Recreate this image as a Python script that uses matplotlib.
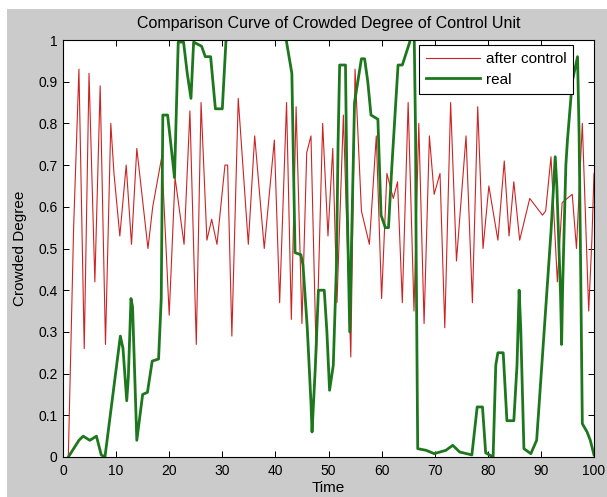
import matplotlib
matplotlib.use('Agg')
import matplotlib.pyplot as plt
from matplotlib.patches import Rectangle

plt.rcParams['font.family'] = ['Liberation Sans', 'DejaVu Sans']

title_text = "Comparison Curve of Crowded Degree of Control Unit"
x_label = "Time"
y_label = "Crowded Degree"
series_names = ["after control", "real"]

x_ticks = [0, 10, 20, 30, 40, 50, 60, 70, 80, 90, 100]
y_ticks = [0, 0.1, 0.2, 0.3, 0.4, 0.5, 0.6, 0.7, 0.8, 0.9, 1]
y_tick_labels = ["0", "0.1", "0.2", "0.3", "0.4", "0.5", "0.6", "0.7", "0.8", "0.9", "1"]

# "after control" series
after_t = [1, 2, 3, 4, 4.9, 6, 7, 8, 9, 9.6, 10.7, 11.9, 12.9, 13.9, 16, 16.9, 18.6,
           20.0, 21.1, 22.8, 23.9, 25.1, 26.0, 27.1, 28.0, 29.0, 30.5, 31.0, 31.8, 33.0,
           34.9, 36.1, 37.9, 39.8, 40.8, 42.1, 43.0, 43.9, 45.0, 45.9, 46.7, 47.7, 48.9,
           49.9, 50.8, 51.6, 52.8, 54.2, 55.0, 56.2, 57.7, 59.0, 60.0, 61.0, 62.2, 63.0,
           63.9, 65.0, 66.1, 67.0, 68.0, 69.0, 69.9, 71.0, 71.9, 73.0, 74.1, 75.9, 77.1,
           78.1, 79.1, 80.2, 81.9, 83.1, 84.0, 84.9, 86.0, 87.9, 90.3, 90.9, 91.9, 93.1,
           94.0, 95.9, 96.7, 97.8, 99.0, 99.6, 100]
after_v = [0.0, 0.55, 0.93, 0.26, 0.92, 0.42, 0.89, 0.27, 0.80, 0.68, 0.53, 0.70, 0.51,
           0.74, 0.50, 0.60, 0.72, 0.34, 0.67, 0.51, 0.83, 0.27, 0.85, 0.52, 0.57, 0.51,
           0.70, 0.70, 0.29, 0.86, 0.51, 0.77, 0.50, 0.76, 0.37, 0.85, 0.33, 0.84, 0.32,
           0.73, 0.77, 0.23, 0.80, 0.53, 0.74, 0.37, 0.82, 0.24, 0.93, 0.59, 0.51, 0.77,
           0.38, 0.68, 0.62, 0.66, 0.37, 0.85, 0.35, 0.80, 0.32, 0.77, 0.63, 0.68, 0.31,
           0.85, 0.47, 0.77, 0.37, 0.84, 0.50, 0.65, 0.52, 0.71, 0.53, 0.66, 0.52, 0.62,
           0.58, 0.59, 0.72, 0.42, 0.61, 0.63, 0.50, 0.80, 0.35, 0.52, 0.68]

# "real" series
real_t = [1, 2, 3, 3.8, 5.05, 6.3, 7.2, 7.9, 10.8, 11.3, 12.0, 12.3, 12.8, 13.1, 13.9,
          15.0, 15.9, 16.8, 18.0, 18.5, 18.8, 19.7, 20.4, 21.0, 21.7, 22.7, 23.4, 24.1,
          24.6, 26.1, 26.8, 27.8, 28.7, 30.0, 30.7, 31.2, 41.8, 42.1, 43.1, 43.7, 44.8,
          45.2, 46.0, 46.7, 46.9, 47.5, 48.1, 49.2, 49.7, 50.2, 50.9, 51.5, 51.8, 52.1,
          53.2, 53.5, 54.0, 54.3, 54.9, 56.2, 56.8, 57.4, 58.0, 59.3, 59.9, 60.7, 61.3,
          61.9, 63.1, 63.9, 65.3, 65.7, 66.1, 66.4, 66.5, 66.8, 68.4, 69.9, 72.1, 73.4,
          74.7, 77.0, 78.0, 79.0, 79.6, 81.0, 81.5, 81.9, 82.9, 83.6, 84.9, 85.5, 85.9,
          86.2, 86.8, 88.1, 89.2, 91.9, 92.7, 93.0, 93.7, 93.9, 94.1, 94.7, 95.0, 95.9,
          96.9, 97.2, 97.5, 97.8, 98.7, 99.3, 99.9, 100]
real_v = [0.0, 0.02, 0.04, 0.05, 0.04, 0.05, 0.005, 0.0, 0.29, 0.26, 0.135, 0.19, 0.38,
          0.36, 0.04, 0.15, 0.155, 0.23, 0.235, 0.38, 0.82, 0.82, 0.74, 0.67, 0.995,
          0.995, 0.92, 0.86, 0.995, 0.985, 0.96, 0.96, 0.835, 0.835, 1.0, 1.05, 1.05,
          0.995, 0.92, 0.49, 0.485, 0.46, 0.31, 0.13, 0.06, 0.21, 0.40, 0.40, 0.30, 0.16,
          0.22, 0.46, 0.75, 0.94, 0.94, 0.62, 0.30, 0.49, 0.85, 0.955, 0.955, 0.90, 0.82,
          0.81, 0.58, 0.55, 0.55, 0.69, 0.94, 0.94, 0.995, 1.05, 1.05, 0.77, 0.5, 0.02,
          0.016, 0.008, 0.016, 0.028, 0.012, 0.005, 0.12, 0.12, 0.01, 0.0, 0.22, 0.25,
          0.25, 0.087, 0.087, 0.22, 0.40, 0.31, 0.02, 0.008, 0.04, 0.54, 0.72, 0.65, 0.39,
          0.27, 0.41, 0.70, 0.76, 0.90, 0.96, 0.77, 0.44, 0.08, 0.06, 0.04, 0.01, 0.005]

W, H = 607, 497
fig = plt.figure(figsize=(W / 100, H / 100), dpi=100)
fig.patch.set_facecolor('white')
fig.patches.append(Rectangle((7 / W, 0), 1, 1 - 9 / H, transform=fig.transFigure,
                             facecolor='#cbcbcb', edgecolor='none', zorder=-10))

ax = fig.add_axes([63 / W, 40 / H, 531 / W, 417 / H])
ax.set_facecolor('white')

ax.plot(after_t, after_v, color='#cc2424', linewidth=0.8, label=series_names[0])
ax.plot(real_t, real_v, color='#1d781d', linewidth=2.0, label=series_names[1])

ax.set_xlim(0, 100)
ax.set_ylim(0, 1)
ax.set_xticks(x_ticks)
ax.set_yticks(y_ticks)
ax.set_yticklabels(y_tick_labels)
ax.tick_params(direction='in', top=True, right=True, length=4, width=0.7,
               labelsize=10, colors='black')
ax.tick_params(axis='x', pad=5)
ax.tick_params(axis='y', pad=4)
for s in ax.spines.values():
    s.set_linewidth(0.8)

ax.set_title(title_text, fontsize=11.5, pad=9)
ax.set_xlabel(x_label, fontsize=11)
ax.xaxis.set_label_coords(0.5, -0.058)
ax.set_ylabel(y_label, fontsize=11)
ax.yaxis.set_label_coords(-0.068, 0.5)

leg = ax.legend(loc='upper right', bbox_to_anchor=(0.961, 0.988), borderaxespad=0,
                fancybox=False, framealpha=1, edgecolor='black', fontsize=11,
                handlelength=3.5, handletextpad=0.4, borderpad=0.45, labelspacing=0.45)
leg.get_frame().set_linewidth(0.8)

fig.savefig('out.png', dpi=100, facecolor=fig.get_facecolor())
